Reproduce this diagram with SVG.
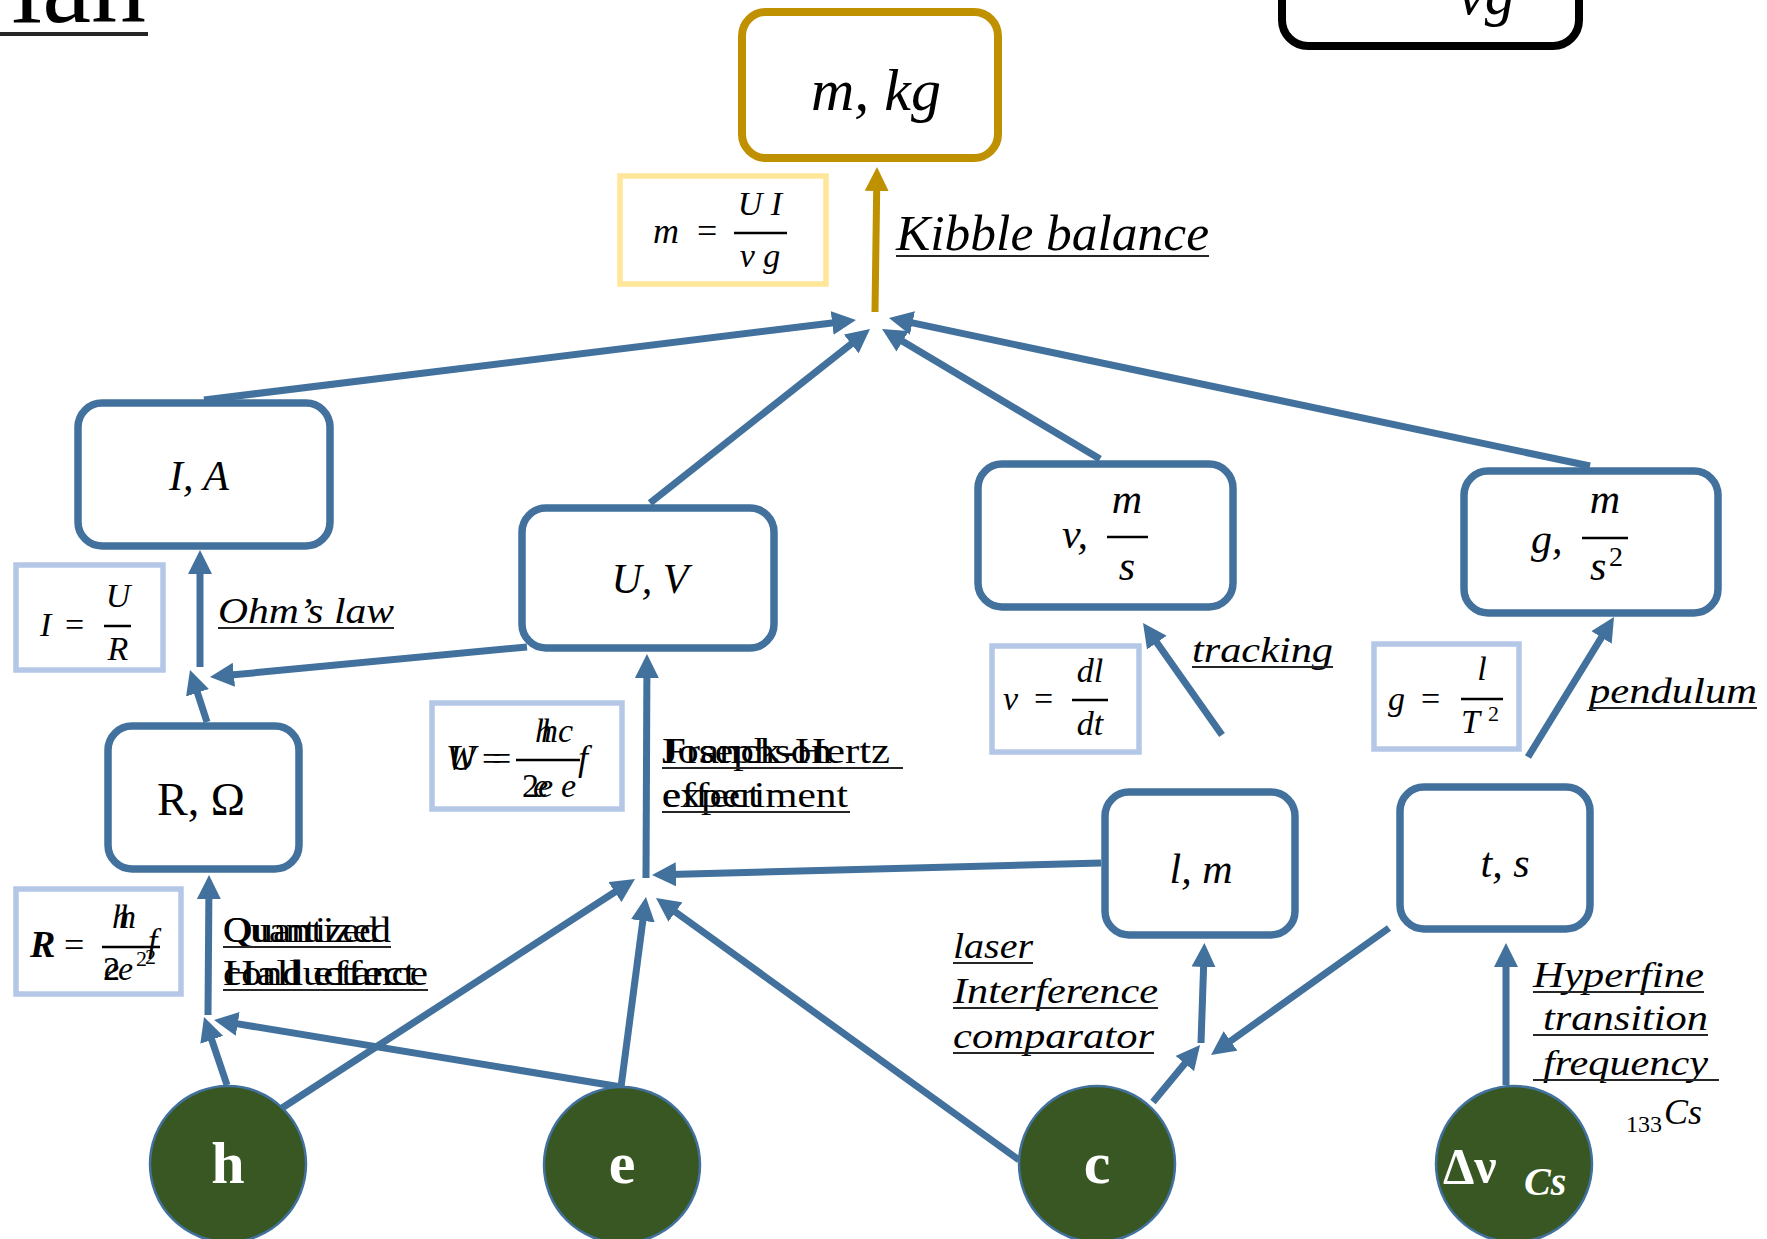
<svg xmlns="http://www.w3.org/2000/svg" width="1767" height="1239" viewBox="0 0 1767 1239">
  <style>
    .node { fill: #fff; stroke: #41719C; stroke-width: 7.5; }
    .root { fill: #fff; stroke: #BF9000; stroke-width: 8; }
    .fbox { fill: #fff; stroke: #B4C7E7; stroke-width: 5.5; }
    .fgold { fill: #fff; stroke: #FFE699; stroke-width: 5.5; }
    .const { fill: #385723; stroke: #41719C; stroke-width: 2.5; }
    .conn line { stroke: #41719C; stroke-width: 7; fill: none; marker-end: url(#ab); }
    .conn line.gold { stroke: #BF9000; marker-end: url(#ag); }
    .it { font-family: "Liberation Serif", serif; font-style: italic; fill: #000; }
    .rm { font-family: "Liberation Serif", serif; fill: #000; }
    .ul { stroke: #262626; stroke-width: 2; }
    .frac { stroke: #000; stroke-width: 2.5; }
    .cst { font-family: "Liberation Serif", serif; font-weight: bold; fill: #fff; }
  </style>
  <defs>
    <marker id="ab" markerUnits="userSpaceOnUse" markerWidth="24" markerHeight="24" viewBox="0 0 24 24" refX="6" refY="12" orient="auto">
      <path d="M0,0 L24,12 L0,24 z" fill="#41719C"/>
    </marker>
    <marker id="ag" markerUnits="userSpaceOnUse" markerWidth="24" markerHeight="24" viewBox="0 0 24 24" refX="6" refY="12" orient="auto">
      <path d="M0,0 L24,12 L0,24 z" fill="#BF9000"/>
    </marker>
  </defs>

  <!-- heading fragment and neighbouring box at the top edge -->
  <g id="heading">
    <text class="rm" x="146" y="22" font-size="110" text-anchor="end" fill="#262626">ian</text>
    <rect x="0" y="32" width="148" height="4" fill="#262626"/>
  </g>
  <g id="side-box">
    <rect x="1282" y="-120" width="297" height="166" rx="26" fill="#fff" stroke="#000" stroke-width="8"/>
    <text class="it" x="1458" y="14" font-size="60">vg</text>
  </g>

  <!-- connectors -->
  <g id="connectors" class="conn">
    <line class="gold" x1="875" y1="312" x2="876.75" y2="185"/>
    <line x1="204" y1="400" x2="838.1" y2="322.2"/>
    <line x1="650" y1="503" x2="855.9" y2="340.2"/>
    <line x1="1100" y1="459" x2="897.5" y2="338.2"/>
    <line x1="1590" y1="466" x2="906.6" y2="321.7"/>
    <line x1="200" y1="667" x2="200" y2="568"/>
    <line x1="207" y1="722" x2="195.6" y2="687.1"/>
    <line x1="527" y1="647" x2="227.9" y2="675.3"/>
    <line x1="208" y1="1015" x2="208.9" y2="893"/>
    <line x1="227" y1="1085" x2="209.8" y2="1034.1"/>
    <line x1="621" y1="1087" x2="231.8" y2="1022.9"/>
    <line x1="646" y1="878" x2="646.9" y2="672"/>
    <line x1="1101" y1="863" x2="670" y2="874.5"/>
    <line x1="282" y1="1108" x2="619.9" y2="888.8"/>
    <line x1="621" y1="1087" x2="643.6" y2="914.9"/>
    <line x1="1019" y1="1160" x2="670.6" y2="908.5"/>
    <line x1="1201" y1="1043" x2="1203.8" y2="961"/>
    <line x1="1389" y1="928" x2="1225.7" y2="1044.5"/>
    <line x1="1153" y1="1102" x2="1188.6" y2="1058.9"/>
    <line x1="1506" y1="1085" x2="1506" y2="961"/>
    <line x1="1222" y1="735" x2="1153.4" y2="637.7"/>
    <line x1="1528" y1="757" x2="1604.6" y2="632.3"/>
  </g>

  <!-- mass (top) -->
  <g id="node-mass">
    <rect class="root" x="742" y="12" width="256" height="146" rx="24"/>
    <text class="it" x="876" y="110" font-size="60" text-anchor="middle">m, kg</text>
  </g>
  <g id="eq-kibble">
    <rect class="fgold" x="620" y="176" width="206" height="108"/>
    <text class="it" x="653" y="243" font-size="36">m</text>
    <text class="rm" x="697" y="243" font-size="36">=</text>
    <line class="frac" x1="734" y1="233" x2="787" y2="233"/>
    <text class="it" x="760" y="215" font-size="34" text-anchor="middle">U I</text>
    <text class="it" x="760" y="267" font-size="34" text-anchor="middle">v g</text>
  </g>
  <g id="label-kibble">
    <text class="it" x="896" y="250" font-size="50" textLength="313" lengthAdjust="spacingAndGlyphs">Kibble balance</text>
    <line class="ul" x1="896" y1="256" x2="1209" y2="256"/>
  </g>

  <!-- current -->
  <g id="node-current">
    <rect class="node" x="78" y="403" width="252" height="143" rx="24"/>
    <text class="it" x="199" y="490" font-size="42" text-anchor="middle">I, A</text>
  </g>
  <g id="eq-ohm">
    <rect class="fbox" x="16" y="565" width="147" height="105"/>
    <text class="it" x="40" y="636" font-size="34">I</text>
    <text class="rm" x="65" y="636" font-size="34">=</text>
    <line class="frac" x1="104" y1="626" x2="131" y2="626"/>
    <text class="it" x="118" y="607" font-size="34" text-anchor="middle">U</text>
    <text class="it" x="118" y="660" font-size="34" text-anchor="middle">R</text>
  </g>
  <g id="label-ohm">
    <text class="it" x="218" y="623" font-size="36" textLength="176" lengthAdjust="spacingAndGlyphs">Ohm’s law</text>
    <line class="ul" x1="218" y1="628" x2="394" y2="628"/>
  </g>

  <!-- voltage -->
  <g id="node-voltage">
    <rect class="node" x="522" y="508" width="252" height="140" rx="24"/>
    <text class="it" x="650" y="593" font-size="42" text-anchor="middle">U, V</text>
  </g>
  <g id="eq-voltage">
    <rect class="fbox" x="432" y="703" width="190" height="106"/>
    <text class="it" x="446" y="770" font-size="36">W</text>
    <text class="it" x="449" y="770" font-size="36">U</text>
    <text class="rm" x="482" y="770" font-size="34">=</text>
    <text class="rm" x="492" y="770" font-size="34">=</text>
    <line class="frac" x1="516" y1="760" x2="580" y2="760"/>
    <text class="it" x="535" y="742" font-size="34">h</text>
    <text class="it" x="541" y="742" font-size="34">hc</text>
    <text class="rm" x="522" y="797" font-size="34">2</text>
    <text class="it" x="533" y="797" font-size="34">e</text>
    <text class="it" x="538" y="797" font-size="34">e</text>
    <text class="it" x="561" y="797" font-size="34">e</text>
    <text class="it" x="578" y="770" font-size="36">f</text>
  </g>
  <g id="label-franck-hertz">
    <text class="rm" x="662" y="763" font-size="36" textLength="228" lengthAdjust="spacingAndGlyphs">Franck-Hertz</text>
    <text class="rm" x="662" y="763" font-size="36" textLength="170" lengthAdjust="spacingAndGlyphs">Josephson</text>
    <text class="rm" x="662" y="807" font-size="36" textLength="186" lengthAdjust="spacingAndGlyphs">experiment</text>
    <text class="rm" x="662" y="807" font-size="36" textLength="98" lengthAdjust="spacingAndGlyphs">effect</text>
    <line class="ul" x1="662" y1="768" x2="903" y2="768"/>
    <line class="ul" x1="662" y1="812" x2="850" y2="812"/>
  </g>

  <!-- velocity -->
  <g id="node-velocity">
    <rect class="node" x="978" y="464" width="255" height="143" rx="24"/>
    <text class="it" x="1062" y="548" font-size="42">v,</text>
    <line class="frac" x1="1107" y1="537" x2="1148" y2="537"/>
    <text class="it" x="1127" y="513" font-size="42" text-anchor="middle">m</text>
    <text class="it" x="1127" y="580" font-size="42" text-anchor="middle">s</text>
  </g>
  <g id="eq-velocity">
    <rect class="fbox" x="992" y="646" width="147" height="106"/>
    <text class="it" x="1003" y="710" font-size="34">v</text>
    <text class="rm" x="1034" y="710" font-size="34">=</text>
    <line class="frac" x1="1072" y1="700" x2="1108" y2="700"/>
    <text class="it" x="1090" y="682" font-size="34" text-anchor="middle">dl</text>
    <text class="it" x="1090" y="735" font-size="34" text-anchor="middle">dt</text>
  </g>
  <g id="label-tracking">
    <text class="it" x="1192" y="662" font-size="36" textLength="141" lengthAdjust="spacingAndGlyphs">tracking</text>
    <line class="ul" x1="1192" y1="667" x2="1333" y2="667"/>
  </g>

  <!-- gravitational acceleration -->
  <g id="node-gravity">
    <rect class="node" x="1464" y="471" width="254" height="142" rx="24"/>
    <text class="it" x="1531" y="553" font-size="42">g,</text>
    <line class="frac" x1="1582" y1="538" x2="1628" y2="538"/>
    <text class="it" x="1605" y="513" font-size="42" text-anchor="middle">m</text>
    <text class="it" x="1590" y="580" font-size="42">s</text>
    <text class="rm" x="1609" y="566" font-size="28">2</text>
  </g>
  <g id="eq-pendulum">
    <rect class="fbox" x="1374" y="644" width="145" height="105"/>
    <text class="it" x="1388" y="710" font-size="34">g</text>
    <text class="rm" x="1421" y="710" font-size="34">=</text>
    <line class="frac" x1="1461" y1="699" x2="1503" y2="699"/>
    <text class="it" x="1482" y="680" font-size="34" text-anchor="middle">l</text>
    <text class="it" x="1461" y="733" font-size="34">T</text>
    <text class="rm" x="1488" y="721" font-size="22">2</text>
  </g>
  <g id="label-pendulum">
    <text class="it" x="1589" y="703" font-size="36" textLength="168" lengthAdjust="spacingAndGlyphs">pendulum</text>
    <line class="ul" x1="1589" y1="708" x2="1757" y2="708"/>
  </g>

  <!-- resistance -->
  <g id="node-resistance">
    <rect class="node" x="108" y="726" width="191" height="143" rx="24"/>
    <text class="rm" x="201" y="815" font-size="46" text-anchor="middle">R, Ω</text>
  </g>
  <g id="eq-hall">
    <rect class="fbox" x="16" y="889" width="165" height="105"/>
    <text class="it" x="30" y="957" font-size="38" font-weight="bold">R</text>
    <text class="rm" x="64" y="957" font-size="36">=</text>
    <line class="frac" x1="102" y1="947" x2="160" y2="947"/>
    <text class="it" x="112" y="928" font-size="34">h</text>
    <text class="it" x="119" y="928" font-size="34">h</text>
    <text class="rm" x="103" y="980" font-size="34">2</text>
    <text class="it" x="104" y="980" font-size="34">e</text>
    <text class="it" x="118" y="980" font-size="34">e</text>
    <text class="rm" x="136" y="966" font-size="22">2</text>
    <text class="rm" x="145" y="964" font-size="22">2</text>
    <text class="it" x="148" y="952" font-size="34">f</text>
  </g>
  <g id="label-hall">
    <text class="rm" x="223" y="942" font-size="36" textLength="168" lengthAdjust="spacingAndGlyphs" fill="#262626">Quantized</text>
    <text class="rm" x="223" y="942" font-size="36" textLength="155" lengthAdjust="spacingAndGlyphs" fill="#262626">Quantized</text>
    <text class="rm" x="223" y="985" font-size="36" textLength="193" lengthAdjust="spacingAndGlyphs" fill="#262626">Hall effect</text>
    <text class="rm" x="223" y="985" font-size="36" textLength="205" lengthAdjust="spacingAndGlyphs" fill="#262626">conductance</text>
    <line class="ul" x1="223" y1="947" x2="391" y2="947"/>
    <line class="ul" x1="223" y1="990" x2="428" y2="990"/>
  </g>

  <!-- length -->
  <g id="node-length">
    <rect class="node" x="1105" y="792" width="190" height="143" rx="24"/>
    <text class="it" x="1201" y="883" font-size="42" text-anchor="middle">l, m</text>
  </g>
  <g id="label-laser">
    <text class="it" x="953" y="958" font-size="36" textLength="80" lengthAdjust="spacingAndGlyphs">laser</text>
    <text class="it" x="953" y="1003" font-size="36" textLength="205" lengthAdjust="spacingAndGlyphs">Interference</text>
    <text class="it" x="953" y="1048" font-size="36" textLength="201" lengthAdjust="spacingAndGlyphs">comparator</text>
    <line class="ul" x1="953" y1="963" x2="1033" y2="963"/>
    <line class="ul" x1="953" y1="1008" x2="1158" y2="1008"/>
    <line class="ul" x1="953" y1="1053" x2="1154" y2="1053"/>
  </g>

  <!-- time -->
  <g id="node-time">
    <rect class="node" x="1400" y="787" width="190" height="142" rx="24"/>
    <text class="it" x="1505" y="877" font-size="42" text-anchor="middle">t, s</text>
  </g>
  <g id="label-hyperfine">
    <text class="it" x="1533" y="987" font-size="36" textLength="171" lengthAdjust="spacingAndGlyphs">Hyperfine</text>
    <text class="it" x="1543" y="1030" font-size="36" textLength="165" lengthAdjust="spacingAndGlyphs">transition</text>
    <text class="it" x="1543" y="1075" font-size="36" textLength="165" lengthAdjust="spacingAndGlyphs">frequency</text>
    <line class="ul" x1="1533" y1="992" x2="1704" y2="992"/>
    <line class="ul" x1="1533" y1="1035" x2="1708" y2="1035"/>
    <line class="ul" x1="1533" y1="1080" x2="1719" y2="1080"/>
    <text class="rm" x="1626" y="1132" font-size="24">133</text>
    <text class="it" x="1664" y="1124" font-size="36">Cs</text>
  </g>

  <!-- defining constants -->
  <g id="const-h">
    <circle class="const" cx="228" cy="1164" r="78"/>
    <text class="cst" x="228" y="1183" font-size="60" text-anchor="middle">h</text>
  </g>
  <g id="const-e">
    <circle class="const" cx="622" cy="1165" r="78"/>
    <text class="cst" x="622" y="1183" font-size="60" text-anchor="middle">e</text>
  </g>
  <g id="const-c">
    <circle class="const" cx="1097" cy="1164" r="78"/>
    <text class="cst" x="1097" y="1183" font-size="60" text-anchor="middle">c</text>
  </g>
  <g id="const-cs">
    <circle class="const" cx="1514" cy="1164" r="78"/>
    <text class="cst" x="1443" y="1183" font-size="50">Δν</text>
    <text class="cst" x="1524" y="1195" font-size="40" font-style="italic">Cs</text>
  </g>
</svg>
